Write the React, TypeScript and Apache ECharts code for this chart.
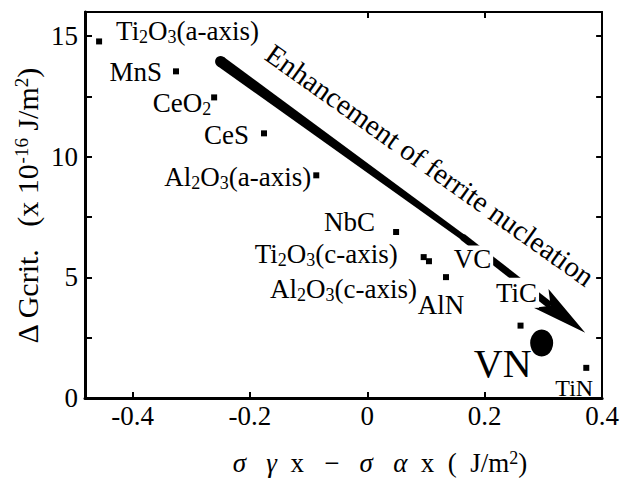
import React, { useEffect, useRef } from 'react';
import * as echarts from 'echarts';

const FONT = "'Liberation Serif', 'Times New Roman', Times, serif";

// ---- data ----
const pointNames = ['Ti2O3(a-axis)', 'MnS', 'CeO2', 'CeS', 'Al2O3(a-axis)', 'NbC', 'Ti2O3(c-axis)', 'Al2O3(c-axis)', 'AlN', 'TiC', 'TiN'];
const xValues = [-0.457, -0.326, -0.261, -0.176, -0.087, 0.049, 0.096, 0.105, 0.134, 0.261, 0.373];
const yValues = [14.78, 13.54, 12.46, 10.97, 9.23, 6.88, 5.84, 5.67, 5.01, 3.0, 1.25];
const vnName = 'VN';
const vnValue = [0.297, 2.28];
const vcName = 'VC';
const vcValue = [0.179, 5.76];
// arrow: start, bend, tip (data coordinates)
const arrowX = [-0.25, 0.1625, 0.3712];
const arrowY = [13.95, 6.67, 2.7];
const arrowText = 'Enhancement of ferrite nucleation';
const xTickValues = [-0.4, -0.2, 0, 0.2, 0.4];
const xTopTickValues = [0, 0.2];
const yLabelValues = [0, 5, 10, 15];
const yTickValues = [0, 2.5, 5, 7.5, 10, 12.5, 15];
const yRightTickValues = [2.5, 5, 7.5, 10, 12.5, 15];

// ---- label placement (style only) ----
const labelPlacement: Record<string, { align: string; offset: number[]; fontSize?: number; bg?: boolean }> = {
  'Ti2O3(a-axis)': { align: 'left', offset: [17, -10] },
  MnS: { align: 'right', offset: [-14, 1] },
  CeO2: { align: 'right', offset: [-3, 6] },
  CeS: { align: 'right', offset: [-15, 2] },
  'Al2O3(a-axis)': { align: 'right', offset: [-5, 2] },
  NbC: { align: 'right', offset: [-21, -10] },
  'Ti2O3(c-axis)': { align: 'right', offset: [-26, -3] },
  'Al2O3(c-axis)': { align: 'right', offset: [-12, 28] },
  AlN: { align: 'center', offset: [-5, 28] },
  TiC: { align: 'center', offset: [-4, -33], bg: true },
  TiN: { align: 'center', offset: [-12, 20], fontSize: 24 },
};

function chem(name: string, big?: number) {
  return name.replace(/(\d+)|([^\d]+)/g, (_m: string, d: string, t: string) => (d ? `{s|${d}}` : `{${big ? 'b' : 'm'}|${t}}`));
}

const rich = {
  m: { fontSize: 27, lineHeight: 30, fontFamily: FONT, color: '#000' },
  b: { fontSize: 24, lineHeight: 28, fontFamily: FONT, color: '#000' },
  s: { fontSize: 18, lineHeight: 18, padding: [12, 0, 0, 0], fontFamily: FONT, color: '#000' },
};

function arrowRenderItem(_params: any, api: any) {
  const pts = arrowX.map((x, i) => api.coord([x, arrowY[i]]));
  const [p0, p1, p2] = pts;
  const norm = (a: number[], b: number[]) => {
    const dx = b[0] - a[0];
    const dy = b[1] - a[1];
    const l = Math.sqrt(dx * dx + dy * dy) || 1;
    return [dx / l, dy / l];
  };
  const d1 = norm(p0, p1);
  const n1 = [-d1[1], d1[0]];
  const d2 = norm(p1, p2);
  const n2 = [-d2[1], d2[0]];
  const L = 56;
  const W = 12;
  const notch = 12;
  const base = [p2[0] - d2[0] * L, p2[1] - d2[1] * L];
  const neck = [p2[0] - d2[0] * (L - notch), p2[1] - d2[1] * (L - notch)];
  const off = (p: number[], n: number[], w: number) => [p[0] + n[0] * w, p[1] + n[1] * w];
  const fill = { fill: '#000' };
  return {
    type: 'group',
    children: [
      { type: 'circle', shape: { cx: p0[0], cy: p0[1], r: 5.5 }, style: fill },
      { type: 'polygon', shape: { points: [off(p0, n1, 5.5), off(p1, n1, 3), off(p1, n1, -3), off(p0, n1, -5.5)] }, style: fill },
      { type: 'circle', shape: { cx: p1[0], cy: p1[1], r: 3.2 }, style: fill },
      { type: 'polygon', shape: { points: [off(p1, n2, 3.5), off(neck, n2, 3.5), off(neck, n2, -3.5), off(p1, n2, -3.5)] }, style: fill },
      { type: 'polygon', shape: { points: [p2, off(base, n2, W), neck, off(base, n2, -W)] }, style: fill },
    ],
  };
}

export default function App() {
  const ref = useRef<HTMLDivElement>(null);
  useEffect(() => {
    if (!ref.current) return;
    const chart = echarts.init(ref.current, undefined, { renderer: 'svg' });

    const pointData = pointNames.map((n, i) => {
      const p = labelPlacement[n];
      return {
        name: n,
        value: [xValues[i], yValues[i]],
        label: {
          show: true,
          position: 'inside',
          align: p.align,
          verticalAlign: 'middle',
          offset: p.offset,
          formatter: chem(n, p.fontSize),
          rich,
          color: '#000',
          opacity: 1,
          textBorderWidth: 0,
          backgroundColor: p.bg ? '#fff' : 'transparent',
          padding: p.bg ? [0, 2, 0, 2] : 0,
        },
      };
    });

    const axisCommon = {
      type: 'value',
      splitLine: { show: false },
    };

    const option: any = {
      animation: false,
      backgroundColor: '#fff',
      grid: { left: 85, right: 18, top: 12, bottom: 100 },
      xAxis: [
        {
          ...axisCommon,
          position: 'bottom',
          min: -0.481,
          max: 0.4,
          axisLine: { onZero: false, lineStyle: { color: '#000', width: 3 } },
          axisTick: { show: true, inside: true, length: 6, customValues: xTickValues, lineStyle: { color: '#000', width: 2 } },
          axisLabel: { customValues: xTickValues, fontSize: 27, fontFamily: FONT, color: '#000', margin: 4, formatter: (v: number) => String(v) },
        },
        {
          ...axisCommon,
          position: 'top',
          min: -0.481,
          max: 0.4,
          axisLine: { onZero: false, lineStyle: { color: '#000', width: 2 } },
          axisTick: { show: true, inside: true, length: 6, customValues: xTopTickValues, lineStyle: { color: '#000', width: 2 } },
          axisLabel: { show: false },
        },
      ],
      yAxis: [
        {
          ...axisCommon,
          position: 'left',
          min: 0,
          max: 16,
          axisLine: { onZero: false, lineStyle: { color: '#000', width: 3 } },
          axisTick: { show: true, inside: true, length: 7, customValues: yTickValues, lineStyle: { color: '#000', width: 2 } },
          axisLabel: { customValues: yLabelValues, fontSize: 27, fontFamily: FONT, color: '#000', margin: 7 },
        },
        {
          ...axisCommon,
          position: 'right',
          min: 0,
          max: 16,
          axisLine: { onZero: false, lineStyle: { color: '#000', width: 2 } },
          axisTick: { show: true, inside: true, length: 6, customValues: yRightTickValues, lineStyle: { color: '#000', width: 2 } },
          axisLabel: { show: false },
        },
      ],
      series: [
        {
          type: 'custom',
          coordinateSystem: 'cartesian2d',
          xAxisIndex: 0,
          yAxisIndex: 0,
          z: 1,
          silent: true,
          renderItem: arrowRenderItem,
          data: [[arrowX[0], arrowY[0]]],
        },
        {
          type: 'scatter',
          xAxisIndex: 0,
          yAxisIndex: 0,
          z: 3,
          symbol: 'rect',
          symbolSize: 6,
          itemStyle: { color: '#000', opacity: 1 },
          data: pointData,
        },
        {
          type: 'scatter',
          xAxisIndex: 0,
          yAxisIndex: 0,
          z: 3,
          symbol: 'circle',
          symbolSize: [23, 27],
          itemStyle: { color: '#000', opacity: 1 },
          data: [
            {
              name: vnName,
              value: vnValue,
              label: {
                show: true,
                position: 'inside',
                align: 'center',
                verticalAlign: 'middle',
                offset: [-39, 21],
                formatter: vnName,
                fontSize: 40,
                fontFamily: FONT,
                color: '#000',
                opacity: 1,
                textBorderWidth: 0,
              },
            },
          ],
        },
        {
          type: 'scatter',
          xAxisIndex: 0,
          yAxisIndex: 0,
          z: 4,
          symbol: 'rect',
          symbolSize: 0.1,
          itemStyle: { color: 'rgba(0,0,0,0)' },
          data: [
            {
              name: vcName,
              value: vcValue,
              label: {
                show: true,
                position: 'inside',
                align: 'center',
                verticalAlign: 'middle',
                formatter: vcName,
                fontSize: 27,
                fontFamily: FONT,
                color: '#000',
                opacity: 1,
                textBorderWidth: 0,
                backgroundColor: '#fff',
                padding: [0, 2, 0, 2],
              },
            },
          ],
        },
      ],
      graphic: [
        {
          type: 'text',
          x: 27,
          y: 206,
          rotation: Math.PI / 2,
          style: {
            text: '{a|\u0394 Gcrit.   (x 10}{u|-16}{a| J/m}{u|2}{a|)}',
            align: 'center',
            verticalAlign: 'middle',
            rich: {
              a: { fontSize: 30, lineHeight: 32, fontFamily: FONT, fill: '#000', color: '#000' },
              u: { fontSize: 19, lineHeight: 19, padding: [0, 0, 11, 0], fontFamily: FONT, fill: '#000', color: '#000' },
            },
          },
        },
        {
          type: 'text',
          x: 380,
          y: 463,
          style: {
            text: '{g|\u03c3}{a|   }{g|\u03b3}{a|  x   \u2212   }{g|\u03c3}{a|   }{g|\u03b1}{a|  x  (  J/m}{u|2}{a|)}',
            align: 'center',
            verticalAlign: 'middle',
            rich: {
              a: { fontSize: 27, lineHeight: 30, fontFamily: FONT, fill: '#000', color: '#000' },
              g: { fontSize: 27, lineHeight: 30, fontStyle: 'italic', fontFamily: FONT, fill: '#000', color: '#000' },
              u: { fontSize: 18, lineHeight: 18, padding: [0, 0, 10, 0], fontFamily: FONT, fill: '#000', color: '#000' },
            },
          },
        },
        {
          type: 'text',
          x: 430,
          y: 165,
          rotation: -0.618,
          style: {
            text: arrowText,
            align: 'center',
            verticalAlign: 'middle',
            fontSize: 29,
            fontFamily: FONT,
            fill: '#000',
          },
        },
      ],
    };

    chart.setOption(option);
    return () => chart.dispose();
  }, []);

  return <div ref={ref} style={{ position: 'fixed', left: 0, top: 0, width: 622, height: 498, background: '#fff' }} />;
}
